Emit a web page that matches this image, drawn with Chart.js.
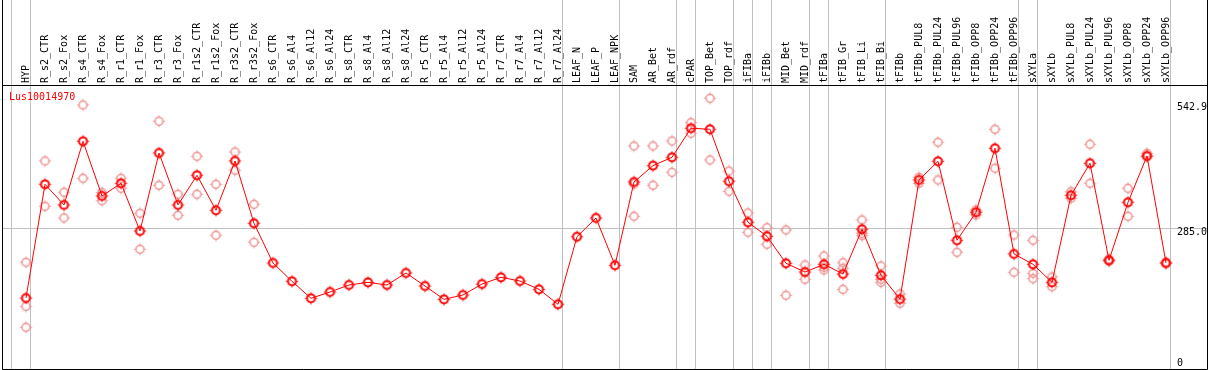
<!DOCTYPE html>
<html>
<head>
<meta charset="utf-8">
<script src="https://cdn.jsdelivr.net/npm/chart.js@4/dist/chart.umd.min.js"></script>
<style>
  html, body { margin: 0; padding: 0; background: #fff; }
  #chart { display: block; }
</style>
</head>
<body>
<canvas id="chart" width="1209" height="370"></canvas>
<script>
// Sample names along the top
const categories = [
    'HYP', 'R_s2_CTR', 'R_s2_Fox', 'R_s4_CTR', 'R_s4_Fox', 'R_r1_CTR', 'R_r1_Fox',
    'R_r3_CTR', 'R_r3_Fox', 'R_r1s2_CTR', 'R_r1s2_Fox', 'R_r3s2_CTR', 'R_r3s2_Fox',
    'R_s6_CTR', 'R_s6_Al4', 'R_s6_Al12', 'R_s6_Al24', 'R_s8_CTR', 'R_s8_Al4', 'R_s8_Al12',
    'R_s8_Al24', 'R_r5_CTR', 'R_r5_Al4', 'R_r5_Al12', 'R_r5_Al24', 'R_r7_CTR', 'R_r7_Al4',
    'R_r7_Al12', 'R_r7_Al24', 'LEAF_N', 'LEAF_P', 'LEAF_NPK', 'SAM', 'AR_Bet', 'AR_rdf',
    'cPAR', 'TOP_Bet', 'TOP_rdf', 'iFIBa', 'iFIBb', 'MID_Bet', 'MID_rdf', 'tFIBa',
    'tFIB_Gr', 'tFIB_Li', 'tFIB_Bi', 'tFIBb', 'tFIBb_PUL8', 'tFIBb_PUL24', 'tFIBb_PUL96',
    'tFIBb_OPP8', 'tFIBb_OPP24', 'tFIBb_OPP96', 'sXYLa', 'sXYLb', 'sXYLb_PUL8',
    'sXYLb_PUL24', 'sXYLb_PUL96', 'sXYLb_OPP8', 'sXYLb_OPP24', 'sXYLb_OPP96'
];

const geneName = 'Lus10014970';

// Mean expression per sample
const meanValues = [
    141.6, 375.7, 333.1, 464.2, 351.6, 377.7, 279.5, 440.1, 333.1, 394.2,
    322.2, 423.6, 295.4, 213.7, 176.0, 141.0, 154.0, 168.4, 173.9, 168.4,
    193.1, 166.3, 138.9, 147.8, 170.4, 184.2, 176.6, 159.5, 128.7, 267.8,
    306.3, 208.9, 380.4, 414.0, 431.3, 491.0, 488.9, 381.9, 297.5, 268.6,
    213.1, 195.1, 211.0, 191.0, 283.0, 188.4, 139.2, 384.5, 423.0, 260.4,
    318.0, 449.8, 232.2, 211.0, 173.9, 353.0, 418.9, 219.2, 338.6, 433.9,
    213.7
];

// Individual replicates (null = no replicate shown)
const rep1 = [
    215.1, 423.6, 359.2, 538.9, 358.4, 388.0, 316.0, 505.4, 355.1, 433.3,
    375.7, 442.2, 334.5, null, null, null, null, null, null, null,
    null, null, null, null, null, null, null, null, null, null,
    null, null, 454.5, 454.5, 464.8, 502.5, 552.7, 403.0, 316.6, 286.3,
    281.6, 209.6, 228.1, 214.3, 302.2, 207.5, 149.9, 390.1, 462.1, 287.2,
    322.8, 488.9, 271.3, 260.4, 184.9, 360.4, 458.0, 221.3, 367.4, 439.5,
    215.1
];
const rep2 = [
    124.5, 330.4, 306.3, 388.0, 341.9, 367.4, 241.9, 373.6, 311.9, 355.1,
    270.7, 404.5, 256.3, null, null, null, null, null, null, null,
    null, null, null, null, null, null, null, null, null, null,
    null, null, 376.3, 373.6, 400.4, 480.7, 425.7, 361.3, 276.9, 252.2,
    147.2, 180.1, 204.8, 202.8, 274.8, 180.1, 130.7, 377.7, 384.5, 235.7,
    312.5, 408.6, 194.5, 192.5, 164.9, 346.9, 377.7, 217.2, 309.8, 432.5,
    212.2
];
const rep3 = [
    81.3, null, null, null, null, null, null, null, null, null,
    null, null, null, null, null, null, null, null, null, null,
    null, null, null, null, null, null, null, null, null, null,
    null, null, 309.8, null, null, null, null, null, null, null,
    null, null, 199.3, 159.5, 269.9, 173.9, null, null, null, null,
    null, null, null, 181.4, null, null, null, null, null, null,
    null
];

// Right-hand axis labels
const yTickValues = [542.9, 285.0, 0];
const yGridValues = [285.0];

// Group separators, given as the index of the first sample after the line
const groupBreaks = [0, 1, 29, 32, 35, 36, 38, 39, 40, 42, 43, 46, 53, 54, 61];

const FONT = '10px "DejaVu Sans Mono", "Liberation Mono", monospace';

function makeMarker(color, lw) {
    const c = document.createElement('canvas');
    c.width = 15;
    c.height = 15;
    const g = c.getContext('2d');
    const m = 7.5, r = 4;
    g.strokeStyle = color;
    g.lineWidth = lw;
    g.beginPath();
    g.arc(m, m, r, 0, Math.PI * 2);
    g.stroke();
    // small ticks around the ring
    g.lineWidth = 1;
    g.beginPath();
    g.moveTo(m, m - r - 2); g.lineTo(m, m - r);
    g.moveTo(m, m + r); g.lineTo(m, m + r + 2);
    g.moveTo(m - r - 2, m); g.lineTo(m - r, m);
    g.moveTo(m + r, m); g.lineTo(m + r + 2, m);
    g.stroke();
    return c;
}

const meanMarker = makeMarker('#ff0000', 2);
const repMarker = makeMarker('#ee9090', 1.5);

const toPoints = arr => arr.map((v, i) => ({ x: i, y: v }));

// Grid lines, frame and all the text round the plot
const decorPlugin = {
    id: 'decor',
    beforeDatasetsDraw(chart) {
        const { ctx, chartArea, scales } = chart;
        const x = scales.x, y = scales.y;
        ctx.save();
        ctx.strokeStyle = '#c0c0c0';
        ctx.lineWidth = 1;
        groupBreaks.forEach(b => {
            const px = Math.round(x.getPixelForValue(b - 15 / 19)) + 0.5;
            ctx.beginPath();
            ctx.moveTo(px, 0);
            ctx.lineTo(px, chartArea.bottom);
            ctx.stroke();
        });
        yGridValues.forEach(v => {
            const py = Math.round(y.getPixelForValue(v)) + 0.5;
            ctx.beginPath();
            ctx.moveTo(chartArea.left, py);
            ctx.lineTo(chartArea.right, py);
            ctx.stroke();
        });
        ctx.restore();
    },
    afterDraw(chart) {
        const { ctx, chartArea, scales } = chart;
        const x = scales.x, y = scales.y;
        ctx.save();
        ctx.font = FONT;

        // rotated sample names
        ctx.fillStyle = '#000';
        ctx.textAlign = 'left';
        ctx.textBaseline = 'middle';
        categories.forEach((name, i) => {
            ctx.save();
            ctx.translate(Math.round(x.getPixelForValue(i)) + 0.5, chartArea.top - 2);
            ctx.rotate(-Math.PI / 2);
            ctx.fillText(name, 0, 0);
            ctx.restore();
        });

        // value labels on the right, left aligned after the last separator
        ctx.textAlign = 'left';
        ctx.textBaseline = 'top';
        yTickValues.forEach(v => {
            const py = Math.min(y.getPixelForValue(v) - 1, chartArea.bottom - 11);
            ctx.fillText(v.toFixed(v === 0 ? 0 : 1), chartArea.right - 30, py);
        });

        // gene name
        ctx.fillStyle = '#ff0000';
        ctx.fillText(geneName, 9, chartArea.top + 7);

        // frame
        ctx.strokeStyle = '#000';
        ctx.lineWidth = 1;
        ctx.beginPath();
        ctx.moveTo(chartArea.left + 0.5, 0);
        ctx.lineTo(chartArea.left + 0.5, chartArea.bottom + 0.5);
        ctx.lineTo(chartArea.right + 0.5, chartArea.bottom + 0.5);
        ctx.lineTo(chartArea.right + 0.5, 0);
        ctx.moveTo(chartArea.left, chartArea.top + 0.5);
        ctx.lineTo(chartArea.right + 1, chartArea.top + 0.5);
        ctx.stroke();
        ctx.restore();
    }
};

const repDataset = arr => ({
    data: toPoints(arr),
    showLine: false,
    pointStyle: repMarker,
    order: 1
});

new Chart(document.getElementById('chart'), {
    type: 'line',
    data: {
        datasets: [
            {
                data: toPoints(meanValues),
                borderColor: '#ff0000',
                borderWidth: 1,
                tension: 0,
                pointStyle: meanMarker,
                order: 0
            },
            repDataset(rep1),
            repDataset(rep2),
            repDataset(rep3)
        ]
    },
    options: {
        responsive: false,
        animation: false,
        devicePixelRatio: 1,
        layout: { autoPadding: false, padding: { left: 2, right: 2, top: 85, bottom: 1 } },
        plugins: {
            legend: { display: false },
            tooltip: { enabled: false }
        },
        scales: {
            x: { type: 'linear', display: false, min: -24 / 19, max: -24 / 19 + 1205 / 19 },
            y: { type: 'linear', display: false, min: -4.5, max: 580 }
        }
    },
    plugins: [decorPlugin]
});
</script>
</body>
</html>
